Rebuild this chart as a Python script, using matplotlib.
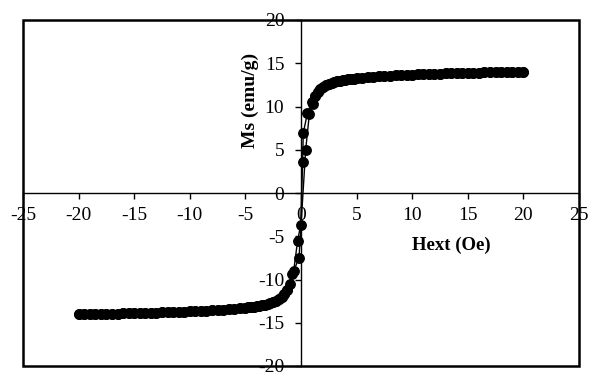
import numpy as np
import matplotlib.pyplot as plt
from matplotlib.patches import Rectangle

plt.rcParams['font.family'] = ['Liberation Serif', 'DejaVu Serif']
plt.rcParams['axes.unicode_minus'] = False

# saturated part of the loop (both branches coincide there)
h_sat = [1.25, 1.5, 1.75, 2.0, 2.25, 2.5, 2.75, 3.0, 3.25, 3.5, 3.75, 4.0,
         4.25, 4.5, 4.75, 5.0, 5.5, 6.0, 6.5, 7.0, 7.5, 8.0, 8.5, 9.0, 9.5,
         10.0, 10.5, 11.0, 11.5, 12.0, 12.5, 13.0, 13.5, 14.0, 14.5, 15.0,
         15.5, 16.0, 16.5, 17.0, 17.5, 18.0, 18.5, 19.0, 19.5, 20.0]
m_sat = [11.2, 11.7, 12.0, 12.25, 12.45, 12.6, 12.72, 12.82, 12.9, 12.97,
         13.03, 13.08, 13.13, 13.17, 13.21, 13.25, 13.32, 13.38, 13.43, 13.48,
         13.52, 13.56, 13.6, 13.63, 13.66, 13.69, 13.72, 13.74, 13.77, 13.79,
         13.81, 13.83, 13.85, 13.87, 13.88, 13.9, 13.91, 13.93, 13.94, 13.95,
         13.96, 13.97, 13.98, 13.99, 14.0, 13.95]

# steep central part
h_down = [0.96, 0.57, 0.2, 0.15, -0.03, -0.3, -0.66, -1.0]
m_down = [10.5, 9.2, 6.9, 3.6, -3.7, -5.5, -9.0, -10.5]
h_up = [-0.78, -0.18, 0.42, 0.75, 1.1]
m_up = [-9.4, -7.5, 5.0, 9.1, 10.3]

h_neg = [-h for h in h_sat]
m_neg = [-m for m in m_sat]

# descending branch: +20 -> -20, ascending branch: -20 -> +20
h_branch1 = h_sat[::-1] + h_down + h_neg
m_branch1 = m_sat[::-1] + m_down + m_neg
h_branch2 = h_neg[::-1] + h_up + h_sat
m_branch2 = m_neg[::-1] + m_up + m_sat

fig = plt.figure(figsize=(6, 3.78), dpi=100)
ax = fig.add_axes([23/600, 1-366/378, (579-23)/600, (366-20)/378])

for hh, mm in [(h_branch1, m_branch1), (h_branch2, m_branch2)]:
    ax.plot(hh, mm, color='black', lw=1, marker='o', ms=6.8,
            markerfacecolor='black', markeredgecolor='black')

ax.set_xlim(-25, 25)
ax.set_ylim(-20, 20)
ax.set_xticks(np.arange(-25, 26, 5))
ax.set_yticks(np.arange(-20, 21, 5))

ax.spines['left'].set_position(('data', 0))
ax.spines['bottom'].set_position(('data', 0))
ax.spines['left'].set_linewidth(1)
ax.spines['bottom'].set_linewidth(1)
ax.spines['top'].set_visible(False)
ax.spines['right'].set_visible(False)
ax.add_patch(Rectangle((0, 0), 1, 1, transform=ax.transAxes, fill=False,
                       lw=1.8, edgecolor='black', clip_on=False, zorder=5))

ax.tick_params(axis='x', direction='out', length=4, width=1, labelsize=14, pad=6)
ax.tick_params(axis='y', direction='out', length=4, width=1, labelsize=14, pad=8)

ax.text(-4.6, 10.7, 'Ms (emu/g)', rotation=90, ha='center', va='center',
        fontsize=14, fontweight='bold')
ax.text(13.5, -6.0, 'Hext (Oe)', ha='center', va='center',
        fontsize=13.5, fontweight='bold')

plt.savefig('out.png', dpi=100)
